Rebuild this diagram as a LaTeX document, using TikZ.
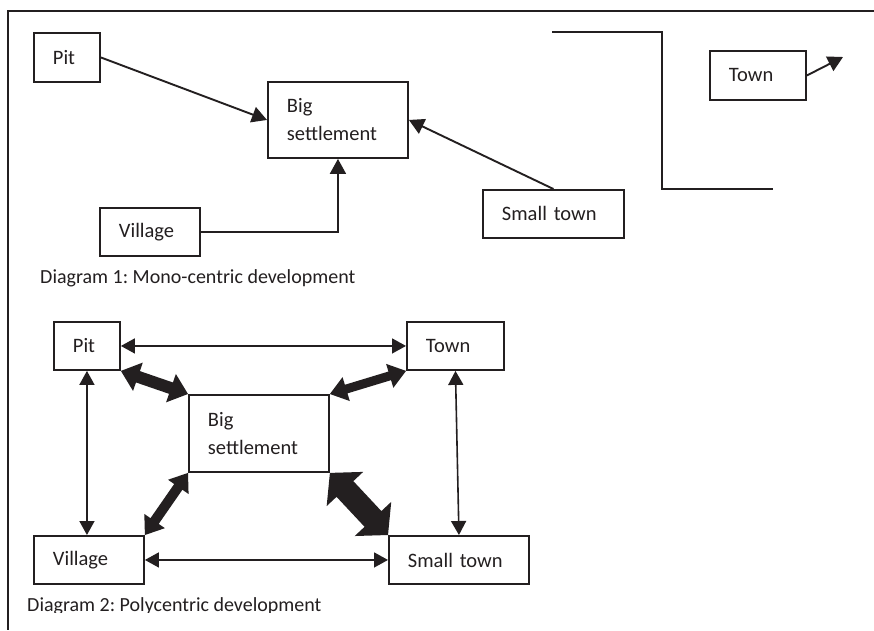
\documentclass[tikz,border=0pt]{standalone}
\usepackage{fontspec}
\setmainfont{Carlito}
\usetikzlibrary{arrows.meta,calc}
\definecolor{ink}{HTML}{231F20}
\newcommand\labelfnt{\frenchspacing\fontsize{20.5}{28}\selectfont}
\newcommand\capfnt{\frenchspacing\fontsize{20}{24}\selectfont}
% double-headed block arrow: from, to, half shaft width, half head width, head length
\newcommand\blockarrow[5]{%
  \fill[ink]
    (#1)
    -- ($(#1)!#5!(#2)!#4!90:(#2)$)
    -- ($(#1)!#5!(#2)!#3!90:(#2)$)
    -- ($(#2)!#5!(#1)!#3!-90:(#1)$)
    -- ($(#2)!#5!(#1)!#4!-90:(#1)$)
    -- (#2)
    -- ($(#2)!#5!(#1)!#4!90:(#1)$)
    -- ($(#2)!#5!(#1)!#3!90:(#1)$)
    -- ($(#1)!#5!(#2)!#3!-90:(#2)$)
    -- ($(#1)!#5!(#2)!#4!-90:(#2)$)
    -- cycle;}
\tikzset{
  box/.style={draw=ink, line width=1.9pt, inner xsep=19pt, inner ysep=0pt,
    align=left, anchor=north west, text=ink, font=\labelfnt},
  link/.style={draw=ink, line width=1.9pt, -{Triangle[length=15pt,width=16pt]}},
  dlink/.style={draw=ink, line width=1.6pt,
    {Triangle[length=14pt,width=15pt]}-{Triangle[length=14pt,width=15pt]}},
  frame/.style={draw=ink, line width=1.9pt},
  caption/.style={anchor=base west, inner sep=0pt, text=ink, font=\capfnt},
}
\begin{document}
\begin{tikzpicture}[x=1pt,y=-1pt]
\useasboundingbox (0,0) rectangle (874,630);
\fill[white] (0,0) rectangle (874,630);

% page frame
\draw[frame] (874,11) -- (8,11) -- (8,630);

% ---- Diagram 1: mono-centric ----
\node[box, text width=28pt,  minimum height=49pt] (pit1)     at (33,32)   {Pit};
\node[box, text width=102pt, minimum height=76pt] (big1)     at (267,81)  {Big\\settlement};
\node[box, text width=62pt,  minimum height=48pt] (village1) at (99,207)  {Village};
\node[box, text width=103pt, minimum height=48pt] (small1)   at (482,189) {Small town};
\node[box, text width=58pt,  minimum height=49pt] (town1)    at (709,50)  {Town};
\coordinate (townout) at (843,57);

\draw[link] (pit1.east) -- (big1.west);
\draw[link] (village1.east) -| (big1.south);
\draw[link] (small1.north) -- (big1.east);
\draw[link] (town1.east) -- (townout);

% stray outline in the upper right
\draw[frame] (552,32) -- (662,32) -- (662,189) -- (773,189);

\node[caption] (cap1) at (40,283) {Diagram 1: Mono-centric development};

% ---- Diagram 2: polycentric ----
\node[box, text width=28pt,  minimum height=48pt] (pit2)     at (53,321)  {Pit};
\node[box, text width=59pt,  minimum height=48pt] (town2)    at (406,321) {Town};
\node[box, text width=102pt, minimum height=77pt] (big2)     at (188,394) {Big\\settlement};
\node[box, text width=72pt,  minimum height=48pt] (village2) at (33,535)  {Village};
\node[box, text width=102pt, minimum height=48pt] (small2)   at (388,535) {Small town};

\draw[dlink] (pit2.east) -- (town2.west);
\draw[dlink] (pit2.south) -- (pit2.south |- village2.north);
\draw[dlink] (town2.south) -- (small2.north);
\draw[dlink] (village2.east) -- (small2.west);

\blockarrow{pit2.south east}{big2.north west}{6pt}{15pt}{18pt}
\blockarrow{big2.north east}{town2.south west}{4.5pt}{12.5pt}{17pt}
\blockarrow{village2.north east}{big2.south west}{5pt}{12.5pt}{17pt}
\blockarrow{big2.south east}{small2.north west}{11.5pt}{25pt}{22pt}

\begin{scope}
  \clip (0,560) rectangle (874,612);
  \node[caption] (cap2) at (27,611) {Diagram 2: Polycentric development};
\end{scope}
\end{tikzpicture}
\end{document}
